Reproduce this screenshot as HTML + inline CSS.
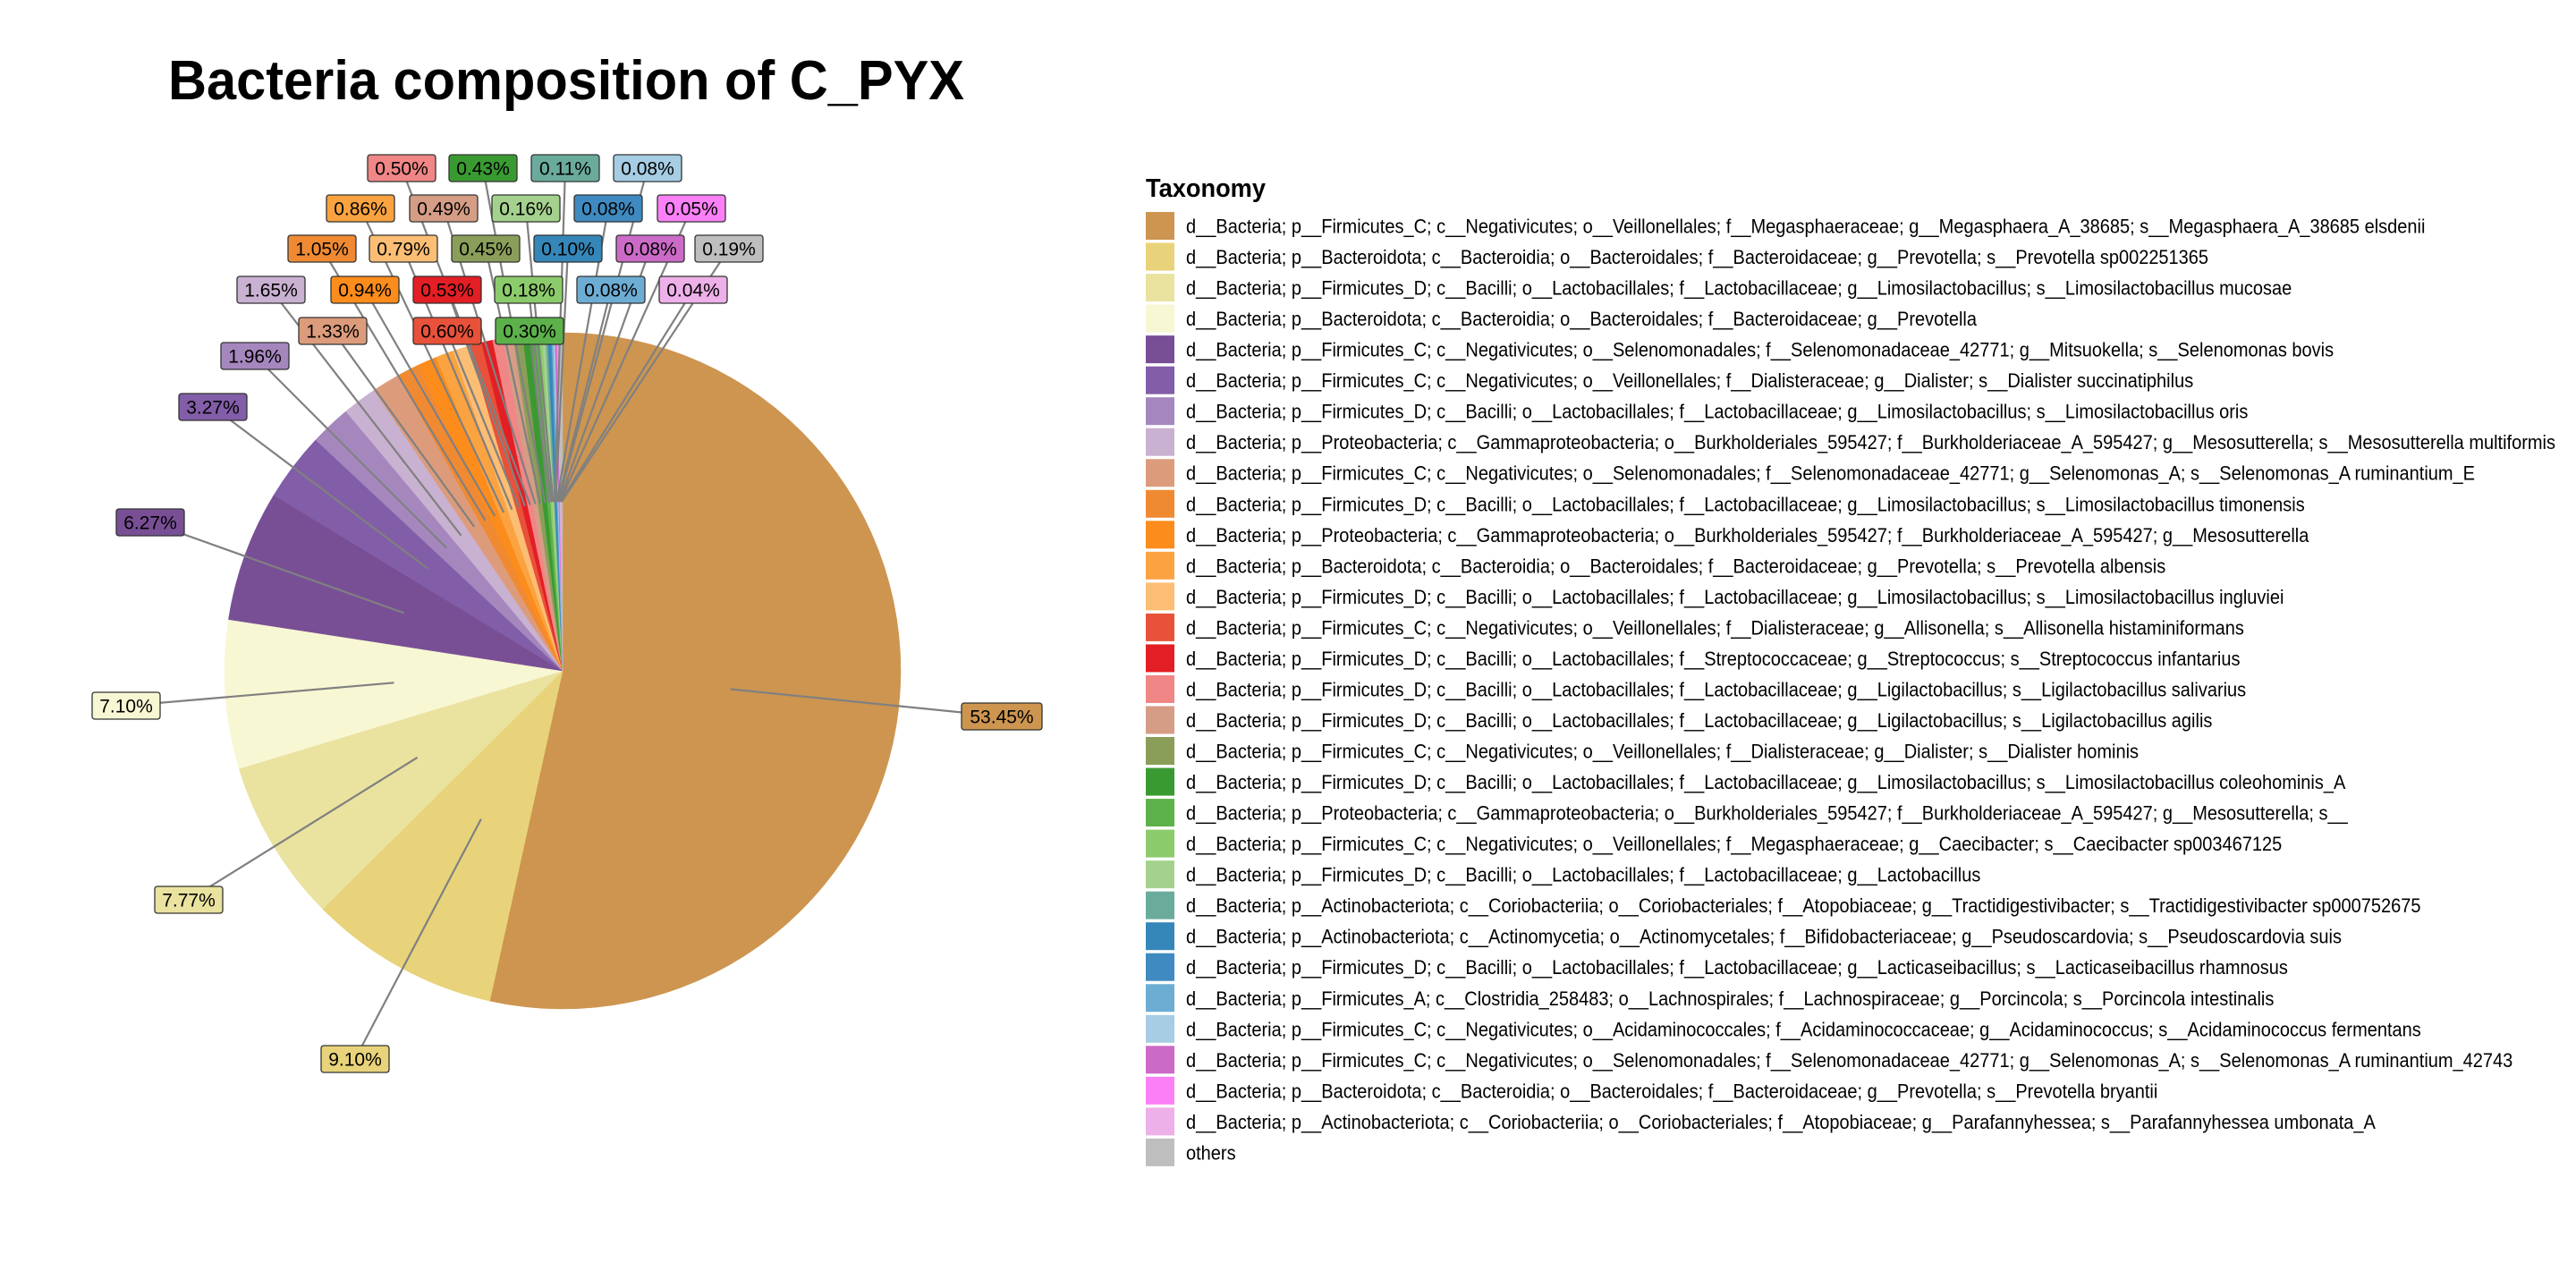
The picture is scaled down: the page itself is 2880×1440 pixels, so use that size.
<!DOCTYPE html>
<html><head><meta charset="utf-8"><style>
html,body{margin:0;padding:0;background:#fff;}
svg{display:block;font-family:"Liberation Sans",Arial,sans-serif;}
</style></head>
<body>
<svg id="chart" width="2880" height="1440" viewBox="0 0 2880 1440" xmlns="http://www.w3.org/2000/svg">
<rect width="2880" height="1440" fill="#fff"/>
<text x="188" y="111" font-size="62" font-weight="bold" textLength="890" lengthAdjust="spacingAndGlyphs">Bacteria composition of C_PYX</text>
<g id="slices"></g>
<g id="leaders"></g>
<g id="labels"></g>
<text x="1281" y="220" font-size="29" font-weight="bold" textLength="134" lengthAdjust="spacingAndGlyphs">Taxonomy</text>
<g id="legend"></g>
</svg>
<script>
const values = [53.45,9.10,7.77,7.10,6.27,3.27,1.96,1.65,1.33,1.05,0.94,0.86,0.79,0.60,0.53,0.50,0.49,0.45,0.43,0.30,0.18,0.16,0.11,0.10,0.08,0.08,0.08,0.08,0.05,0.04,0.19];
const valueLabels = ["53.45%","9.10%","7.77%","7.10%","6.27%","3.27%","1.96%","1.65%","1.33%","1.05%","0.94%","0.86%","0.79%","0.60%","0.53%","0.50%","0.49%","0.45%","0.43%","0.30%","0.18%","0.16%","0.11%","0.10%","0.08%","0.08%","0.08%","0.08%","0.05%","0.04%","0.19%"];
const colors = ["#CD9550","#E8D37A","#EAE29F","#F8F7D4","#784F95","#825DA8","#A587BE","#C9B1D2","#DC9C7C","#F08A32","#FC8C1C","#FAA340","#FCBE74","#E8513A","#E31E24","#F08686","#D59D85","#8A9E59","#3A9A32","#5DB14B","#8CCB6B","#A4D28E","#6BAB9B","#3586B9","#3F8AC0","#6DADD4","#A6CDE3","#CC6BC7","#FB80F7","#EDB0E8","#BEBEBE"];
const categories = [
"d__Bacteria; p__Firmicutes_C; c__Negativicutes; o__Veillonellales; f__Megasphaeraceae; g__Megasphaera_A_38685; s__Megasphaera_A_38685 elsdenii",
"d__Bacteria; p__Bacteroidota; c__Bacteroidia; o__Bacteroidales; f__Bacteroidaceae; g__Prevotella; s__Prevotella sp002251365",
"d__Bacteria; p__Firmicutes_D; c__Bacilli; o__Lactobacillales; f__Lactobacillaceae; g__Limosilactobacillus; s__Limosilactobacillus mucosae",
"d__Bacteria; p__Bacteroidota; c__Bacteroidia; o__Bacteroidales; f__Bacteroidaceae; g__Prevotella",
"d__Bacteria; p__Firmicutes_C; c__Negativicutes; o__Selenomonadales; f__Selenomonadaceae_42771; g__Mitsuokella; s__Selenomonas bovis",
"d__Bacteria; p__Firmicutes_C; c__Negativicutes; o__Veillonellales; f__Dialisteraceae; g__Dialister; s__Dialister succinatiphilus",
"d__Bacteria; p__Firmicutes_D; c__Bacilli; o__Lactobacillales; f__Lactobacillaceae; g__Limosilactobacillus; s__Limosilactobacillus oris",
"d__Bacteria; p__Proteobacteria; c__Gammaproteobacteria; o__Burkholderiales_595427; f__Burkholderiaceae_A_595427; g__Mesosutterella; s__Mesosutterella multiformis",
"d__Bacteria; p__Firmicutes_C; c__Negativicutes; o__Selenomonadales; f__Selenomonadaceae_42771; g__Selenomonas_A; s__Selenomonas_A ruminantium_E",
"d__Bacteria; p__Firmicutes_D; c__Bacilli; o__Lactobacillales; f__Lactobacillaceae; g__Limosilactobacillus; s__Limosilactobacillus timonensis",
"d__Bacteria; p__Proteobacteria; c__Gammaproteobacteria; o__Burkholderiales_595427; f__Burkholderiaceae_A_595427; g__Mesosutterella",
"d__Bacteria; p__Bacteroidota; c__Bacteroidia; o__Bacteroidales; f__Bacteroidaceae; g__Prevotella; s__Prevotella albensis",
"d__Bacteria; p__Firmicutes_D; c__Bacilli; o__Lactobacillales; f__Lactobacillaceae; g__Limosilactobacillus; s__Limosilactobacillus ingluviei",
"d__Bacteria; p__Firmicutes_C; c__Negativicutes; o__Veillonellales; f__Dialisteraceae; g__Allisonella; s__Allisonella histaminiformans",
"d__Bacteria; p__Firmicutes_D; c__Bacilli; o__Lactobacillales; f__Streptococcaceae; g__Streptococcus; s__Streptococcus infantarius",
"d__Bacteria; p__Firmicutes_D; c__Bacilli; o__Lactobacillales; f__Lactobacillaceae; g__Ligilactobacillus; s__Ligilactobacillus salivarius",
"d__Bacteria; p__Firmicutes_D; c__Bacilli; o__Lactobacillales; f__Lactobacillaceae; g__Ligilactobacillus; s__Ligilactobacillus agilis",
"d__Bacteria; p__Firmicutes_C; c__Negativicutes; o__Veillonellales; f__Dialisteraceae; g__Dialister; s__Dialister hominis",
"d__Bacteria; p__Firmicutes_D; c__Bacilli; o__Lactobacillales; f__Lactobacillaceae; g__Limosilactobacillus; s__Limosilactobacillus coleohominis_A",
"d__Bacteria; p__Proteobacteria; c__Gammaproteobacteria; o__Burkholderiales_595427; f__Burkholderiaceae_A_595427; g__Mesosutterella; s__",
"d__Bacteria; p__Firmicutes_C; c__Negativicutes; o__Veillonellales; f__Megasphaeraceae; g__Caecibacter; s__Caecibacter sp003467125",
"d__Bacteria; p__Firmicutes_D; c__Bacilli; o__Lactobacillales; f__Lactobacillaceae; g__Lactobacillus",
"d__Bacteria; p__Actinobacteriota; c__Coriobacteriia; o__Coriobacteriales; f__Atopobiaceae; g__Tractidigestivibacter; s__Tractidigestivibacter sp000752675",
"d__Bacteria; p__Actinobacteriota; c__Actinomycetia; o__Actinomycetales; f__Bifidobacteriaceae; g__Pseudoscardovia; s__Pseudoscardovia suis",
"d__Bacteria; p__Firmicutes_D; c__Bacilli; o__Lactobacillales; f__Lactobacillaceae; g__Lacticaseibacillus; s__Lacticaseibacillus rhamnosus",
"d__Bacteria; p__Firmicutes_A; c__Clostridia_258483; o__Lachnospirales; f__Lachnospiraceae; g__Porcincola; s__Porcincola intestinalis",
"d__Bacteria; p__Firmicutes_C; c__Negativicutes; o__Acidaminococcales; f__Acidaminococcaceae; g__Acidaminococcus; s__Acidaminococcus fermentans",
"d__Bacteria; p__Firmicutes_C; c__Negativicutes; o__Selenomonadales; f__Selenomonadaceae_42771; g__Selenomonas_A; s__Selenomonas_A ruminantium_42743",
"d__Bacteria; p__Bacteroidota; c__Bacteroidia; o__Bacteroidales; f__Bacteroidaceae; g__Prevotella; s__Prevotella bryantii",
"d__Bacteria; p__Actinobacteriota; c__Coriobacteriia; o__Coriobacteriales; f__Atopobiaceae; g__Parafannyhessea; s__Parafannyhessea umbonata_A",
"others"];
// repelled label box centres (layout)
const labelX = [1120,397,211,141,168,238,285,303,372,360,408,403,451,500,500,449,496,543,540,592,591,588,632,635,680,683,724,727,773,775,815];
const labelY = [801,1184,1006,789,584,455,398,324,370,278,324,233,278,370,324,188,233,278,188,370,324,233,188,278,233,324,188,278,233,324,278];

const NS="http://www.w3.org/2000/svg";
const cx=629, cy=750, R=378;
const total=values.reduce((a,b)=>a+b,0);
function angleScale(v){return v/total*2*Math.PI;}
function pt(a,r){return [cx+r*Math.sin(a), cy-r*Math.cos(a)];}
function mk(tag,attrs,parent){const e=document.createElementNS(NS,tag);for(const k in attrs)e.setAttribute(k,attrs[k]);parent.appendChild(e);return e;}

const gS=document.getElementById('slices'),gL=document.getElementById('leaders'),gT=document.getElementById('labels'),gLeg=document.getElementById('legend');
let a0=0;
values.forEach((v,i)=>{
  const a1=a0+angleScale(v);
  const p0=pt(a0,R),p1=pt(a1,R);
  const large=(a1-a0)>Math.PI?1:0;
  const path=mk('path',{d:`M${cx},${cy} L${p0[0]},${p0[1]} A${R},${R} 0 ${large} 1 ${p1[0]},${p1[1]} Z`,fill:colors[i],stroke:colors[i],'stroke-width':0.5},gS);
  
  
  const am=(a0+a1)/2, s=pt(am,R/2);
  const ln=mk('line',{x1:s[0],y1:s[1],x2:labelX[i],y2:labelY[i],stroke:'#808080','stroke-width':2.2},gL);
  
  
  const g=mk('g',{},gT);
  
  
  const w=valueLabels[i].length>5?90:76;
  mk('rect',{x:labelX[i]-w/2,y:labelY[i]-15,width:w,height:30,rx:3,fill:colors[i],stroke:'#333','stroke-width':1.3},g);
  const t=mk('text',{x:labelX[i],y:labelY[i]+7.5,'font-size':21,'text-anchor':'middle',fill:'#000'},g);
  t.textContent=valueLabels[i];
  a0=a1;
});

const legY0=237, legPitch=34.53;
const texts=[];
categories.forEach((c,i)=>{
  const g=mk('g',{},gLeg);
  
  
  const y=legY0+i*legPitch;
  mk('rect',{x:1281,y:y,width:32,height:31,fill:colors[i]},g);
  const t=mk('text',{x:1326,y:y+23.5,'font-size':22,fill:'#000'},g);
  t.textContent=c;
  texts.push(t);
});
const factor=1531/texts[7].getComputedTextLength();
texts.forEach(t=>{
  const nat=t.getComputedTextLength();
  t.setAttribute('textLength',nat*factor);
  t.setAttribute('lengthAdjust','spacingAndGlyphs');
});
</script>
</body></html>
